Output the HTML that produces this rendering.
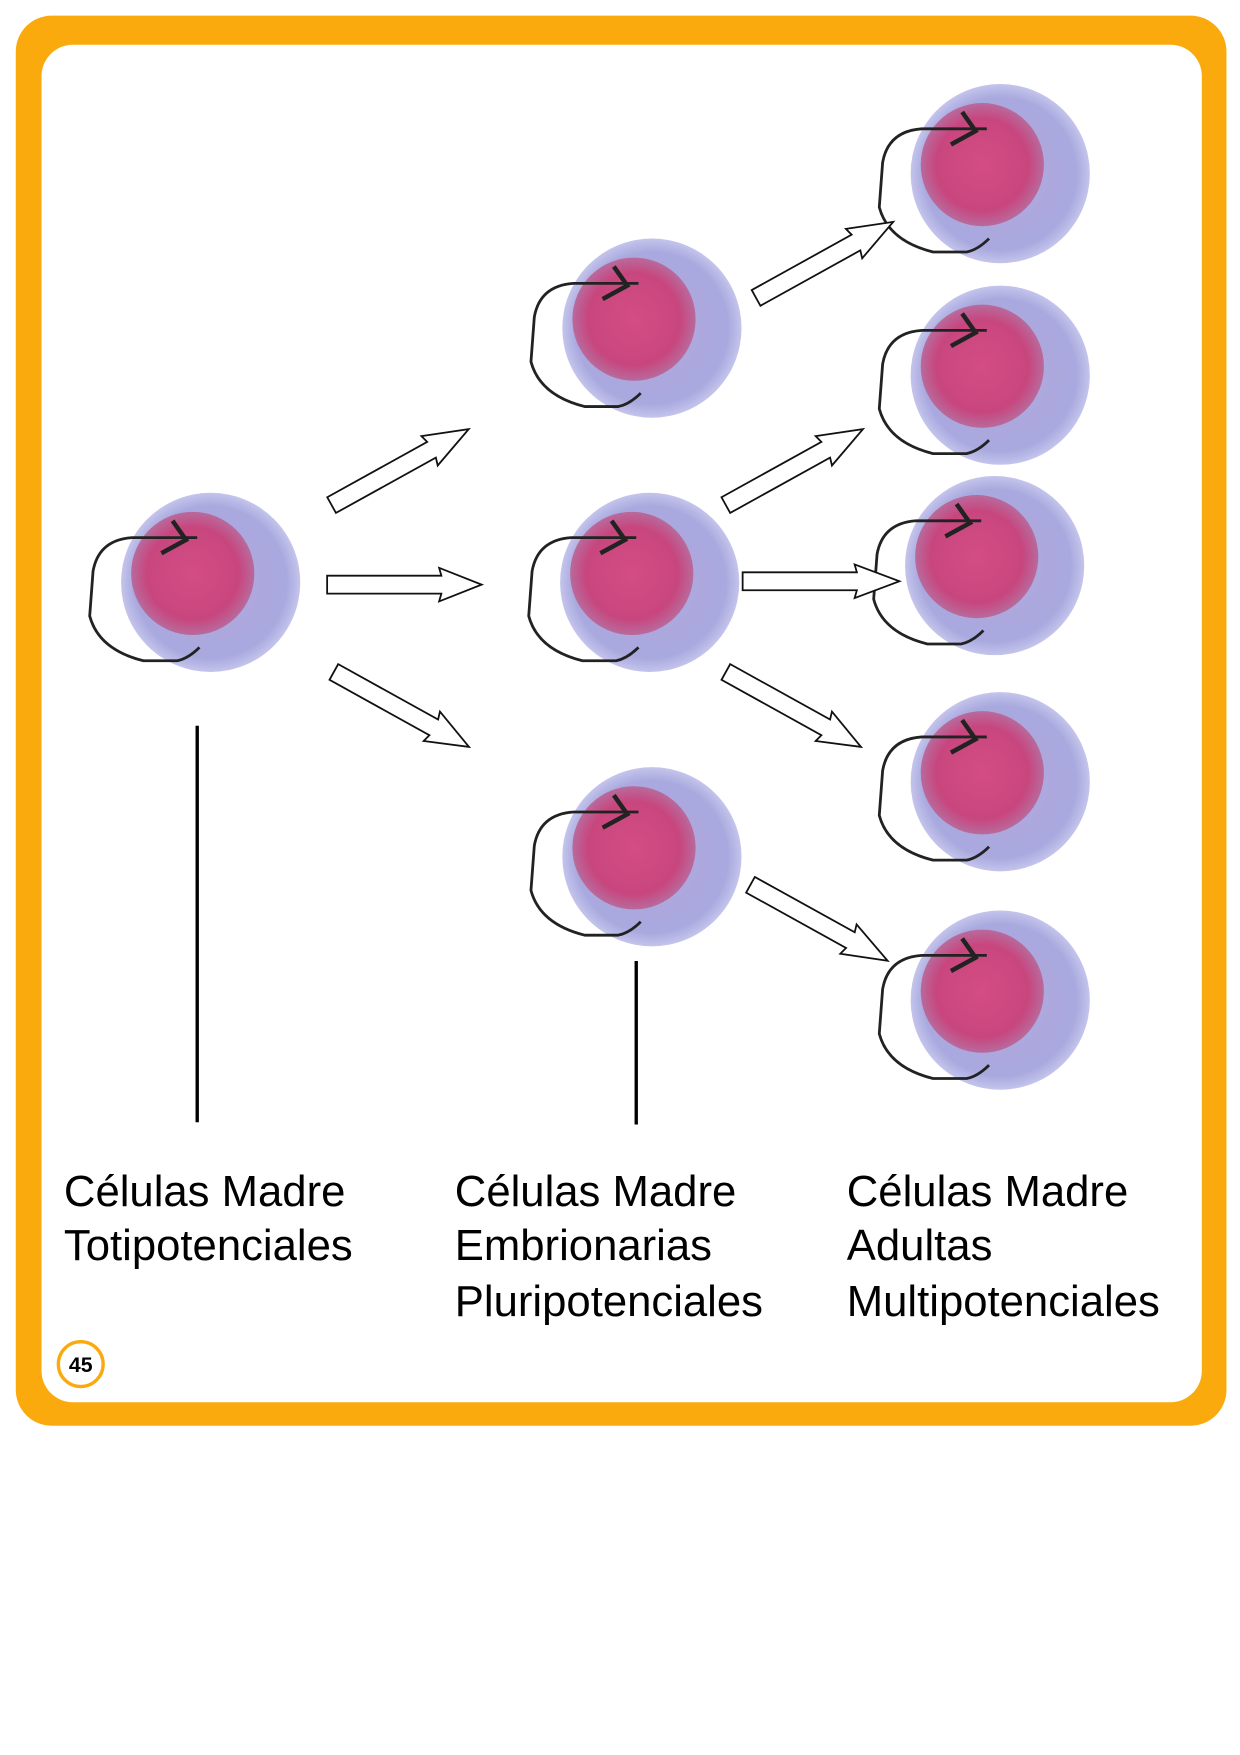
<!DOCTYPE html>
<html><head><meta charset="utf-8"><style>
html,body{margin:0;padding:0;background:#fff;}
svg{display:block;}
</style></head><body>
<svg width="1240" height="1755" viewBox="0 0 1107 1567" xmlns="http://www.w3.org/2000/svg">
<defs>
<radialGradient id="outer" cx="0.5" cy="0.5" r="0.5">
<stop offset="0" stop-color="#b3a6dd"/><stop offset="0.85" stop-color="#a9a9df"/><stop offset="1" stop-color="#c4c4ec"/>
</radialGradient>
<radialGradient id="inner" cx="0.5" cy="0.5" r="0.5">
<stop offset="0" stop-color="#d44d84"/><stop offset="0.75" stop-color="#c8467e"/><stop offset="1" stop-color="#b86a9c"/>
</radialGradient>
<g id="cell">
<circle cx="0" cy="0" r="80" fill="url(#outer)"/>
<circle cx="-16" cy="-8" r="55" fill="url(#inner)"/>
<path d="M-12,-40 L-70,-40 Q-100,-38 -105,-10 L-108,30 Q-100,60 -60,70 L-30,70 Q-20,68 -10,58" fill="none" stroke="#222" stroke-width="2.5"/>
<path d="M-34,-55 L-22,-38 L-44,-26" fill="none" stroke="#222" stroke-width="4"/>
</g>
</defs>
<rect x="14" y="14" width="1081" height="1259" rx="32" fill="#fbaa0d"/>
<rect x="37" y="40" width="1036" height="1212" rx="28" fill="#fff"/>

<use href="#cell" x="188" y="520"/>
<use href="#cell" x="582" y="293"/>
<use href="#cell" x="580" y="520"/>
<use href="#cell" x="582" y="765"/>
<use href="#cell" x="893" y="155"/>
<use href="#cell" x="893" y="335"/>
<use href="#cell" x="888" y="505"/>
<use href="#cell" x="893" y="698"/>
<use href="#cell" x="893" y="893"/>

<g fill="#fff" stroke="#111" stroke-width="1.6">
<polygon transform="translate(296,451) rotate(-29)" points="0,-8 102,-8 100,-15 140,0 100,15 102,8 0,8"/>
<polygon transform="translate(292,522)" points="0,-8 102,-8 100,-15 138,0 100,15 102,8 0,8"/>
<polygon transform="translate(298,600) rotate(29)" points="0,-8 102,-8 100,-15 138,0 100,15 102,8 0,8"/>
<polygon transform="translate(648,451) rotate(-29)" points="0,-8 102,-8 100,-15 140,0 100,15 102,8 0,8"/>
<polygon transform="translate(663,519)" points="0,-8 102,-8 100,-15 140,0 100,15 102,8 0,8"/>
<polygon transform="translate(648,600) rotate(29)" points="0,-8 102,-8 100,-15 138,0 100,15 102,8 0,8"/>
<polygon transform="translate(675,266) rotate(-29)" points="0,-8 102,-8 100,-15 140,0 100,15 102,8 0,8"/>
<polygon transform="translate(670,790) rotate(29)" points="0,-8 102,-8 100,-15 140,0 100,15 102,8 0,8"/>
</g>

<line x1="176" y1="648" x2="176" y2="1002" stroke="#000" stroke-width="3"/>
<line x1="568" y1="858" x2="568" y2="1004" stroke="#000" stroke-width="3"/>

<g font-family="Liberation Sans, Arial, sans-serif" font-size="39" fill="#000">
<text x="57" y="1077">Células Madre</text>
<text x="57" y="1125">Totipotenciales</text>
<text x="406" y="1077">Células Madre</text>
<text x="406" y="1125">Embrionarias</text>
<text x="406" y="1175">Pluripotenciales</text>
<text x="756" y="1077">Células Madre</text>
<text x="756" y="1125">Adultas</text>
<text x="756" y="1175">Multipotenciales</text>
</g>
<circle cx="72" cy="1218" r="20" fill="#fff" stroke="#fbaa0d" stroke-width="3"/>
<text x="72" y="1225" font-family="Liberation Sans, Arial, sans-serif" font-size="19" font-weight="bold" text-anchor="middle">45</text>
</svg>
</body></html>
